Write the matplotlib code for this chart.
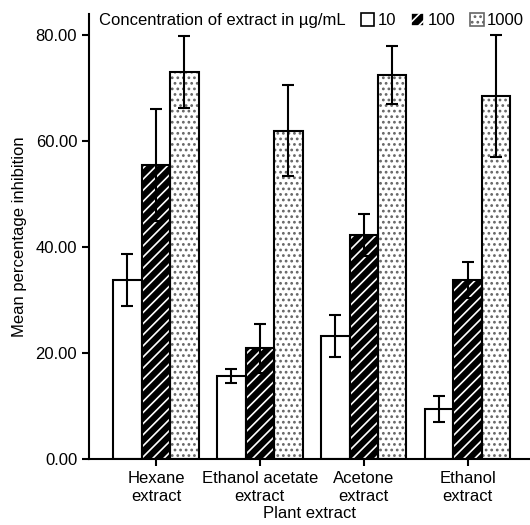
import numpy as np
import matplotlib
matplotlib.use("Agg")
import matplotlib.pyplot as plt
from matplotlib.patches import Patch

plt.rcParams['font.family'] = ['Liberation Sans', 'DejaVu Sans']
plt.rcParams['hatch.linewidth'] = 1.2

# data
extracts = ["Hexane\nextract", "Ethanol acetate\nextract", "Acetone\nextract", "Ethanol\nextract"]
conc_labels = ["10", "100", "1000"]
mean_10 = [33.8, 15.7, 23.2, 9.4]
err_10 = [4.9, 1.3, 3.9, 2.5]
mean_100 = [55.5, 20.9, 42.3, 33.8]
err_100 = [10.5, 4.6, 3.9, 3.4]
mean_1000 = [73.0, 62.0, 72.5, 68.5]
err_1000 = [6.8, 8.6, 5.4, 11.5]

x = np.arange(len(extracts))
w = 0.274
fs = 12

fig = plt.figure(figsize=(5.3, 5.25), dpi=100)
ax = fig.add_axes([0.168, 0.126, 0.832, 0.847])

# 10: plain white
ax.bar(x - w, mean_10, w, color="white", edgecolor="black", linewidth=1.5, zorder=2)
# 100: black with white diagonal lines
ax.bar(x, mean_100, w, color="black", edgecolor="white", hatch="///", linewidth=0, zorder=2)
ax.bar(x, mean_100, w, fill=False, edgecolor="black", linewidth=1.5, zorder=3)
# 1000: white with dots
ax.bar(x + w, mean_1000, w, color="white", edgecolor="#666666", hatch="...", linewidth=0, zorder=2)
ax.bar(x + w, mean_1000, w, fill=False, edgecolor="black", linewidth=1.5, zorder=3)

for off, m, e in [(-w, mean_10, err_10), (0, mean_100, err_100), (w, mean_1000, err_1000)]:
    ax.errorbar(x + off, m, yerr=e, fmt="none", ecolor="black", elinewidth=1.5,
                capsize=4, capthick=1.5, zorder=4)

ax.set_xlim(-0.644, 3.6)
ax.set_ylim(0, 84)
ax.set_yticks([0, 20, 40, 60, 80])
ax.set_yticklabels(["0.00", "20.00", "40.00", "60.00", "80.00"], fontsize=fs)
ax.set_xticks(x)
ax.set_xticklabels(extracts, fontsize=fs, linespacing=1.3)
ax.tick_params(direction="out", width=1.5, length=5)
ax.spines["top"].set_visible(False)
ax.spines["right"].set_visible(False)
ax.spines["left"].set_linewidth(1.5)
ax.spines["bottom"].set_linewidth(1.5)
ax.set_ylabel("Mean percentage inhibition", fontsize=fs, labelpad=6)
ax.set_xlabel("Plant extract", fontsize=fs, labelpad=1)

# legend
ax.text(0.023, 0.985, "Concentration of extract in \u00b5g/mL", transform=ax.transAxes,
        fontsize=fs, va="center", ha="left")
handles = [
    Patch(facecolor="white", edgecolor="black", linewidth=1.2),
    Patch(facecolor="black", edgecolor="white", hatch="///", linewidth=1.2),
    Patch(facecolor="white", edgecolor="#666666", hatch="...", linewidth=1.2),
]
leg = ax.legend(handles, conc_labels, ncol=3, loc="center right", bbox_to_anchor=(1.005, 0.985),
                frameon=False, fontsize=fs, handlelength=0.8, handleheight=0.8,
                handletextpad=0.2, columnspacing=0.9, borderpad=0)

fig.savefig("out.png", dpi=100)
